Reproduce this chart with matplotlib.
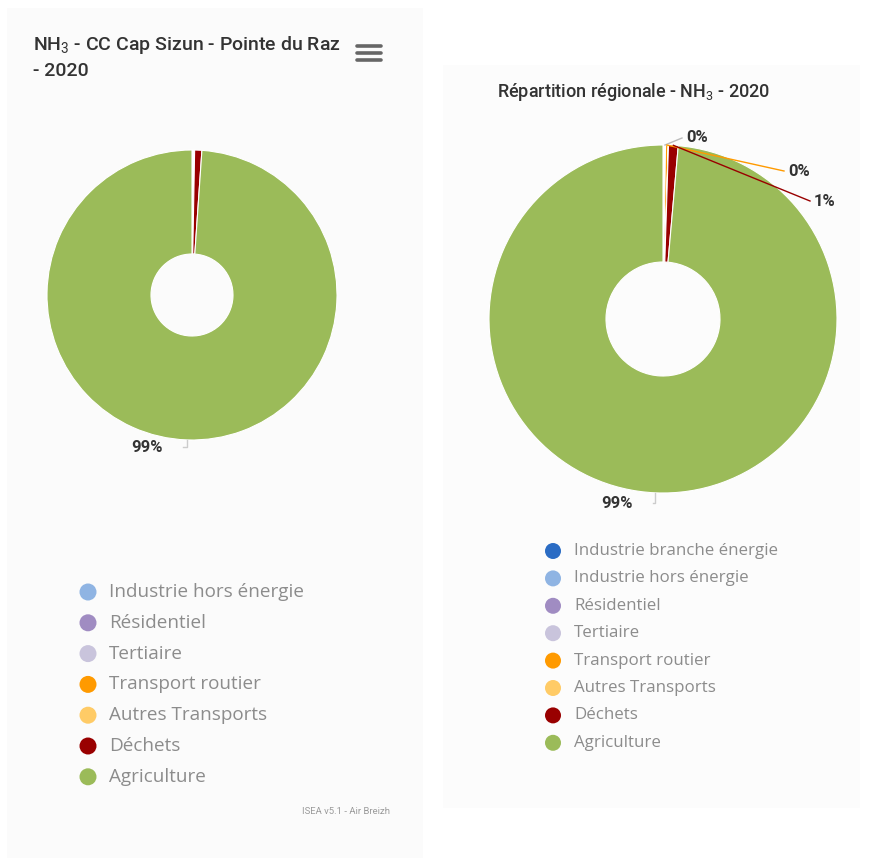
"""
Two NH3 donut charts (ISEA / Air Breizh): CC Cap Sizun vs regional split, 2020.
"""

import numpy as np
import matplotlib
matplotlib.use("Agg")
import matplotlib.pyplot as plt
from matplotlib.patches import Rectangle, Circle

W, H = 879, 858

# ── data ─────────────────────────────────────────────────────────────────────
left_sectors = ["Industrie hors énergie", "Résidentiel", "Tertiaire",
                "Transport routier", "Autres Transports", "Déchets", "Agriculture"]
left_values = [0.05, 0.02, 0.10, 0.10, 0.02, 0.80, 98.91]

right_sectors = ["Industrie branche énergie", "Industrie hors énergie", "Résidentiel",
                 "Tertiaire", "Transport routier", "Autres Transports", "Déchets",
                 "Agriculture"]
right_values = [0.02, 0.10, 0.01, 0.10, 0.25, 0.02, 0.90, 98.60]

sector_colors = {
    "Industrie branche énergie": "#2b6cc4",
    "Industrie hors énergie": "#8fb4e3",
    "Résidentiel": "#a08cc2",
    "Tertiaire": "#c9c4dc",
    "Transport routier": "#ff9a00",
    "Autres Transports": "#ffcb66",
    "Déchets": "#990000",
    "Agriculture": "#9bbb59",
}

# which slices get a data label, and where the label text sits (pixels)
left_labels = {"Agriculture": (163, 447)}
right_labels = {"Tertiaire": (686, 138), "Transport routier": (788, 171),
                "Déchets": (814, 201), "Agriculture": (633, 503)}

plt.rcParams["font.family"] = ["Open Sans", "DejaVu Sans"]
plt.rcParams["mathtext.fontset"] = "custom"
plt.rcParams["mathtext.rm"] = "Roboto"
plt.rcParams["mathtext.it"] = "Roboto"

fig = plt.figure(figsize=(W / 100, H / 100), dpi=100, facecolor="white")
ax = fig.add_axes([0, 0, 1, 1])


def Y(y):
    return H - y


# panel backgrounds
ax.add_patch(Rectangle((7, Y(858)), 416, 850, facecolor="#fbfbfb", edgecolor="none", zorder=0))
ax.add_patch(Rectangle((443, Y(808)), 417, 743, facecolor="#fcfcfc", edgecolor="none", zorder=0))


def donut(values, sectors, cx, cy, R, r_in, labels):
    cols = [sector_colors[s] for s in sectors]
    ax.pie(values, colors=cols, startangle=90, counterclock=False,
           center=(cx, Y(cy)), radius=R, frame=True,
           wedgeprops=dict(width=R - r_in, edgecolor="white", linewidth=0.8))
    total = float(np.sum(values))
    cum = np.cumsum([0] + list(values)) / total * 360.0
    for i, s in enumerate(sectors):
        if s not in labels:
            continue
        mid = np.radians((cum[i] + cum[i + 1]) / 2)
        x0 = cx + R * np.sin(mid)
        y0 = cy - R * np.cos(mid)
        lx, ly = labels[s]
        pct = values[i] / total * 100
        if lx > cx:
            ex, ha = lx - 4, "left"
        else:
            ex, ha = lx + 20, "right"
        line_col = sector_colors[s] if s not in ("Agriculture", "Tertiaire") else "#bbbbbb"
        if s == "Agriculture":
            # short elbow connector
            ax.plot([x0, x0, ex], [Y(y0), Y(ly), Y(ly)],
                    color="#cccccc", lw=1, zorder=3)
        else:
            ax.plot([x0, ex], [Y(y0), Y(ly)], color=line_col, lw=1, zorder=3)
        ax.text(lx, Y(ly), f"{pct:.0f}%", ha=ha, va="center", fontsize=12,
                fontweight="bold", color="#333333", family="Roboto", zorder=4)


donut(left_values, left_sectors, 192, 295, 145, 41, left_labels)
donut(right_values, right_sectors, 663, 319, 174, 57, right_labels)

ax.set_xlim(0, W)
ax.set_ylim(0, H)
ax.set_aspect("auto")
ax.axis("off")

# titles
ax.text(33, Y(45), "NH$_3$ - CC Cap Sizun - Pointe du Raz", ha="left", va="center",
        fontsize=14, color="#333333", family="Roboto", fontweight="medium")
ax.text(33, Y(71), "- 2020", ha="left", va="center",
        fontsize=14, color="#333333", family="Roboto", fontweight="medium")
ax.text(497, Y(92), "Répartition régionale - NH$_3$ - 2020", ha="left", va="center",
        fontsize=13, color="#333333", family="Roboto", fontweight="medium")

# menu icon
for yy in (46, 53, 60):
    ax.plot([357, 381], [Y(yy), Y(yy)], color="#666666", lw=2.6,
            solid_capstyle="round", zorder=3)


def legend(sectors, x, y0, dy, fs, rad):
    for k, s in enumerate(sectors):
        yy = y0 + k * dy
        ax.add_patch(Circle((x, Y(yy)), rad, facecolor=sector_colors[s],
                            edgecolor="none", zorder=3))
        ax.text(x + 21, Y(yy), s, ha="left", va="center", fontsize=fs,
                color="#8c8c8c", zorder=3)


legend(left_sectors, 88, 592, 30.8, 13.6, 8.5)
legend(right_sectors, 553, 551, 27.4, 12.2, 8)

ax.text(390, Y(812), "ISEA v5.1 - Air Breizh", ha="right", va="center",
        fontsize=6.8, color="#9a9a9a", family="Roboto")

fig.savefig("out.png", dpi=100, facecolor="white")
